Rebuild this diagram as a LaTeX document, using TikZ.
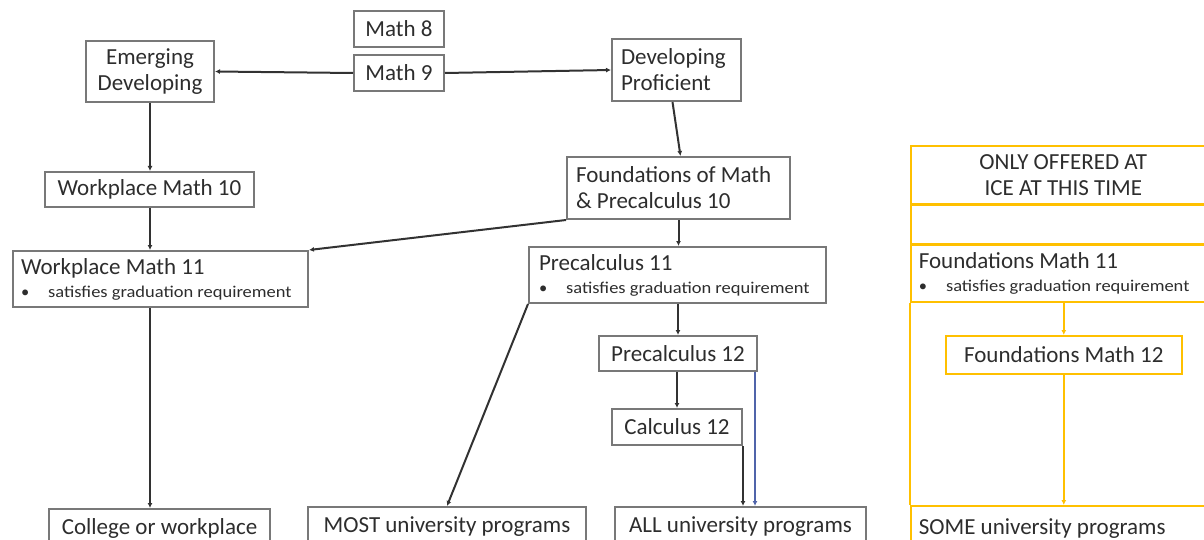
\documentclass[tikz,border=0pt]{standalone}
\usepackage{fontspec}
\setmainfont{Carlito}
\usetikzlibrary{positioning,arrows.meta}

\definecolor{boxgray}{RGB}{120,120,120}
\definecolor{linegray}{RGB}{50,50,50}
\definecolor{txtgray}{RGB}{45,45,45}
\definecolor{icegold}{RGB}{255,192,0}
\definecolor{pathblue}{RGB}{80,100,170}

\tikzset{
  course/.style={draw=boxgray, line width=2pt, text=txtgray,
    font=\fontsize{23}{26}\selectfont, inner sep=0pt, anchor=north west},
  icebox/.style={course, draw=icegold, line width=1.6pt},
  flow/.style={draw=linegray, line width=2pt, -{Latex[length=5pt,width=5pt]}},
  iceflow/.style={flow, draw=icegold, line width=1.6pt},
}
\newcommand{\gradreq}{\\[-3pt]{\fontsize{16.5}{18}\selectfont\textbullet\hspace{19pt}\scalebox{1.12}[1]{satisfies graduation requirement}}}

\begin{document}
\begin{tikzpicture}[x=1pt,y=-1pt]
\useasboundingbox (0,0) rectangle (1204,540);
\clip (0,0) rectangle (1204,540);

% grades 8 and 9
\node[course, minimum width=90, minimum height=36] (math8) at (353,10) {Math 8};
\node[course, minimum width=90, minimum height=36, below=6pt of math8.south west, anchor=north west] (math9) {Math 9};

% the two streams
\node[course, minimum width=128, minimum height=61, align=center] (emdev) at (85,40) {Emerging\\Developing};
\node[course, minimum height=62, inner xsep=9pt, text width=111, align=flush left] (devprof) at (611,38) {Developing\\Proficient};

% grade 10
\node[course, minimum width=209, minimum height=35] (wm10) at (44,171) {Workplace Math 10};
\node[course, minimum height=62, inner xsep=9pt, text width=205, align=flush left] (fp10) at (566,156) {Foundations of Math\\\& Precalculus 10};

% grade 11
\node[course, minimum height=56, inner xsep=8pt, text width=279, align=flush left] (wm11) at (12,250) {Workplace Math 11\gradreq};
\node[course, minimum height=56, inner xsep=10pt, text width=277, align=flush left] (pc11) at (528,246) {Precalculus 11\gradreq};

% grade 12
\node[course, minimum width=158, minimum height=35] (pc12) at (598,335) {Precalculus 12};
\node[course, minimum width=130, minimum height=36] (calc12) at (611,408) {Calculus 12};
\coordinate (pc12out) at ([xshift=-3pt]pc12.south east);

% where it leads
\node[course, minimum width=221, minimum height=40] (college) at (48,508) {\raisebox{4pt}{College or workplace}};
\node[course, minimum width=278, minimum height=40] (most) at (307,506) {\raisebox{4pt}{MOST university programs}};
\node[course, minimum width=251, minimum height=40] (all) at (614,506) {\raisebox{4pt}{ALL university programs}};

% ICE column
\node[icebox, minimum width=305, minimum height=58, align=center] (icehead) at (910,145) {ONLY OFFERED AT\\ICE AT THIS TIME};
\node[icebox, minimum width=305, minimum height=38, below=0pt of icehead.south west, anchor=north west] (icegap) {};
\node[icebox, minimum height=57, inner xsep=8pt, text width=289, align=flush left, below=0pt of icegap.south west, anchor=north west] (fm11) {Foundations Math 11\gradreq};
\node[icebox, minimum width=236, minimum height=38] (fm12) at (945,335) {Foundations Math 12};
\node[icebox, minimum height=45, inner xsep=8pt, text width=289, align=flush left] (some) at (910,505) {\raisebox{4pt}{SOME university programs}};
\draw[icegold, line width=1.6pt] (fm11.south west) -- (some.north west);
\draw[icegold, line width=1.6pt] (fm11.south east) -- (some.north east);

% arrows
\draw[flow] (math9.west) -- (emdev.east);
\draw[flow] (math9.east) -- (devprof.west);
\draw[flow] (emdev.south) -- (wm10.north -| emdev.south);
\draw[flow] (wm10.south -| emdev.south) -- (wm11.north -| emdev.south);
\draw[flow] (wm11.south -| emdev.south) -- (college.north -| emdev.south);
\draw[flow] ([xshift=-4pt]devprof.south) -- ([xshift=2pt]fp10.north);
\draw[flow] (fp10.south west) -- (wm11.north east);
\draw[flow] (fp10.south) -- (pc11.north -| fp10.south);
\draw[flow] (pc11.south west) -- (most.north);
\draw[flow] (pc11.south -| pc12.north) -- (pc12.north);
\draw[flow] (pc12.south -| calc12.north) -- (calc12.north);
\draw[flow] (calc12.south east) -- (all.north -| calc12.south east);
\draw[flow, draw=pathblue] (pc12out) -- (all.north -| pc12out);
\draw[iceflow] (fm11.south -| fm12.north) -- (fm12.north);
\draw[iceflow] (fm12.south) -- (some.north -| fm12.south);
\end{tikzpicture}
\end{document}
